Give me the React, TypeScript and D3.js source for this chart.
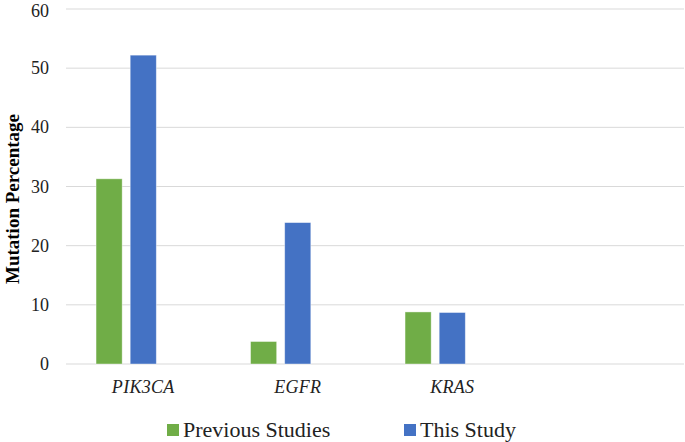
import React from "react";
import * as d3 from "d3";

const genes = ["PIK3CA", "EGFR", "KRAS", ""];
const seriesNames = ["Previous Studies", "This Study", ""];
const previousStudies = [31.3, 3.8, 8.8];
const thisStudy = [52.2, 23.9, 8.7];
const yTicks = [0, 10, 20, 30, 40, 50, 60];
const colors = ["#70AD47", "#4472C4"];

const W = 685;
const H = 442;
const margin = { top: 9, right: 1, bottom: 78, left: 66 };

const font = "'Liberation Serif'";

const App: React.FC = () => {
  const x = d3
    .scaleBand<string>()
    .domain(genes.map((g, i) => g || `blank${i}`))
    .range([margin.left, W - margin.right]);

  // third (empty) series slot, like the spreadsheet original
  const inner = d3
    .scaleBand<string>()
    .domain(seriesNames.map((s, i) => s || `none${i}`))
    .range([0, x.bandwidth()])
    .paddingInner(0.235)
    .paddingOuter(0.88);

  const y = d3
    .scaleLinear()
    .domain([0, 60])
    .range([H - margin.bottom, margin.top]);

  const series = [previousStudies, thisStudy];

  return (
    <svg
      width={W}
      height={H}
      style={{ position: "absolute", left: 0, top: 0, background: "#fff" }}
    >
      {yTicks.map((t) => (
        <g key={t}>
          <line
            x1={margin.left}
            x2={W - margin.right}
            y1={y(t)}
            y2={y(t)}
            stroke="#d9d9d9"
            strokeWidth={1}
          />
          <text
            x={49}
            y={Math.max(y(t) + 6, 17)}
            textAnchor="end"
            fontSize={18}
            fill="#222"
            style={{ fontFamily: font }}
          >
            {t}
          </text>
        </g>
      ))}

      {series.map((vals, si) =>
        vals.map((v, i) => {
          const key = genes[i];
          return (
            <rect
              key={`${si}-${i}`}
              x={(x(key) || 0) + (inner(seriesNames[si]) || 0)}
              y={y(v)}
              width={inner.bandwidth()}
              height={y(0) - y(v)}
              fill={colors[si]}
              stroke="#fff"
              strokeOpacity={0.5}
              strokeWidth={0.8}
            />
          );
        })
      )}

      {genes
        .filter((g) => g)
        .map((g) => (
          <text
            key={g}
            x={(x(g) || 0) + x.bandwidth() / 2}
            y={393}
            textAnchor="middle"
            fontSize={18}
            fontStyle="italic"
            letterSpacing={0.3}
            fill="#222"
            style={{ fontFamily: font }}
          >
            {g}
          </text>
        ))}

      <text
        transform={`translate(19,${(113 + 285) / 2}) rotate(-90)`}
        textAnchor="middle"
        fontSize={19}
        fontWeight="bold"
        fill="#000"
        style={{ fontFamily: font }}
      >
        Mutation Percentage
      </text>

      {[
        { name: seriesNames[0], sx: 167, color: colors[0] },
        { name: seriesNames[1], sx: 404, color: colors[1] },
      ].map((d) => (
        <g key={d.name}>
          <rect x={d.sx} y={424} width={12} height={12} fill={d.color} />
          <text x={d.sx + 16} y={437} fontSize={22} fill="#222" style={{ fontFamily: font }}>
            {d.name}
          </text>
        </g>
      ))}
    </svg>
  );
};

export default App;
